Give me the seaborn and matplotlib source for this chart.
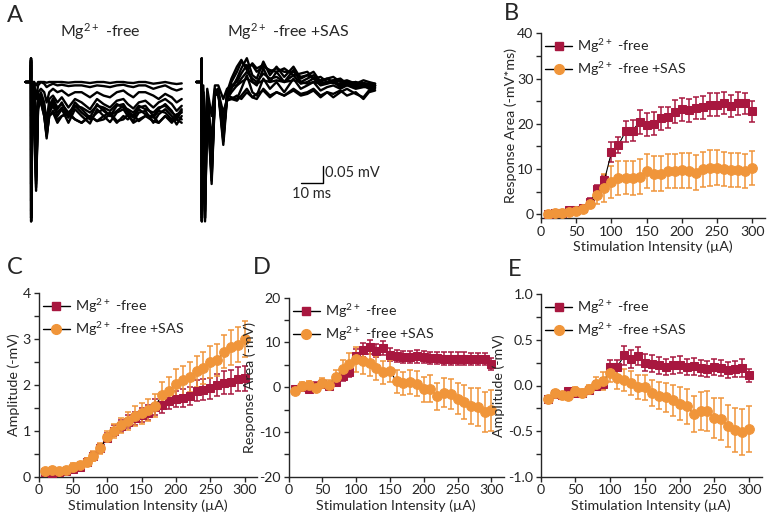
import matplotlib
matplotlib.use('Agg')
import matplotlib.pyplot as plt
from matplotlib.lines import Line2D
from matplotlib.ticker import MultipleLocator, FormatStrFormatter
import seaborn as sns
import pandas as pd

sns.set_style('ticks')
plt.rcParams['font.family'] = ['Lato', 'DejaVu Sans']
plt.rcParams['mathtext.fontset'] = 'custom'
plt.rcParams['mathtext.rm'] = 'Lato'
plt.rcParams['mathtext.default'] = 'regular'
plt.rcParams['axes.unicode_minus'] = False

RED = '#A8173F'
ORANGE = '#F0953A'

# stimulation intensities (uA)
stim = [10, 20, 30, 40, 50, 60, 70, 80, 90, 100, 110, 120, 130, 140, 150,
        160, 170, 180, 190, 200, 210, 220, 230, 240, 250, 260, 270, 280, 290, 300]

# B: response area (-mV*ms)
b_free = [0, 0.2, 0.3, 1.0, 1.0, 1.3, 2.8, 5.5, 7.5, 13.7, 15.3, 18.3, 18.5, 20.4, 19.8,
          20.0, 21.2, 21.4, 22.7, 23.2, 23.0, 23.5, 23.6, 24.2, 24.2, 24.6, 24.0, 24.5, 24.5, 22.8]
b_free_err = [0.2, 0.3, 0.3, 0.5, 0.6, 0.6, 0.8, 1.0, 1.2, 2.2, 1.8, 2.3, 2.4, 2.7, 2.5,
              2.5, 2.5, 2.4, 2.5, 2.5, 2.5, 2.4, 2.5, 2.5, 2.5, 2.5, 2.4, 2.5, 2.4, 2.3]
b_sas = [0, 0.2, 0.2, 0.5, 0.8, 1.2, 2.3, 4.2, 5.8, 7.1, 8.0, 8.1, 8.0, 8.3, 9.6,
         9.0, 9.0, 9.6, 9.5, 9.7, 9.6, 9.2, 9.9, 10.2, 10.3, 10.0, 9.8, 9.8, 9.6, 10.2]
b_sas_err = [0.2, 0.3, 0.3, 0.5, 0.6, 0.7, 1.0, 2.0, 3.0, 3.6, 3.7, 3.7, 3.7, 3.8, 3.8,
             3.8, 3.8, 3.8, 3.8, 3.9, 3.9, 3.9, 3.9, 3.9, 3.9, 3.8, 3.8, 3.8, 3.8, 3.8]

# C: amplitude (-mV)
c_free = [0.1, 0.05, 0.1, 0.12, 0.17, 0.22, 0.33, 0.45, 0.62, 0.85, 1.0, 1.1, 1.2, 1.27, 1.35,
          1.4, 1.52, 1.56, 1.65, 1.7, 1.72, 1.76, 1.88, 1.9, 1.93, 2.0, 2.05, 2.06, 2.13, 2.15]
c_free_err = [0.05, 0.05, 0.05, 0.05, 0.05, 0.06, 0.07, 0.08, 0.1, 0.1, 0.12, 0.13, 0.14, 0.14, 0.15,
              0.16, 0.17, 0.18, 0.18, 0.18, 0.2, 0.2, 0.22, 0.22, 0.23, 0.24, 0.25, 0.26, 0.26, 0.27]
c_sas = [0.12, 0.15, 0.12, 0.15, 0.22, 0.25, 0.33, 0.45, 0.62, 0.87, 1.0, 1.12, 1.22, 1.33, 1.38,
         1.45, 1.55, 1.78, 1.88, 2.03, 2.1, 2.18, 2.3, 2.38, 2.5, 2.55, 2.73, 2.82, 2.88, 3.0]
c_sas_err = [0.05, 0.06, 0.06, 0.06, 0.07, 0.07, 0.08, 0.1, 0.12, 0.12, 0.15, 0.17, 0.2, 0.22, 0.22,
             0.24, 0.25, 0.28, 0.3, 0.32, 0.32, 0.33, 0.34, 0.35, 0.35, 0.35, 0.36, 0.38, 0.38, 0.4]

# D: response area (-mV)
d_free = [-0.5, 0, -0.3, 0.3, 0.8, 0.2, 1.2, 2.5, 3.5, 7.0, 8.3, 9.0, 8.2, 8.8, 7.3,
          7.0, 6.8, 6.8, 6.9, 6.8, 6.5, 6.5, 6.4, 6.4, 6.4, 6.4, 6.3, 6.3, 6.3, 5.2]
d_free_err = [0.8, 0.8, 0.8, 0.8, 0.8, 0.8, 1.0, 1.2, 1.3, 1.5, 1.5, 1.5, 1.5, 1.5, 1.4,
              1.4, 1.4, 1.4, 1.4, 1.4, 1.4, 1.4, 1.4, 1.4, 1.4, 1.4, 1.4, 1.4, 1.4, 1.4]
d_sas = [-0.8, 0.3, 0.5, -0.2, 1.0, 0.6, 2.3, 4.0, 5.2, 6.2, 5.8, 5.4, 4.3, 3.3, 3.6,
         1.3, 0.9, 1.1, 0.8, -0.5, -0.3, -2.0, -1.2, -1.5, -2.6, -3.4, -4.2, -4.4, -5.5, -5.2]
d_sas_err = [0.8, 0.9, 0.9, 0.9, 1.0, 1.0, 1.5, 2.0, 2.5, 2.8, 2.8, 2.8, 2.7, 2.6, 2.5,
             2.5, 2.6, 2.7, 2.8, 2.8, 3.0, 3.0, 3.2, 3.3, 3.5, 3.8, 4.0, 4.2, 4.4, 4.6]

# E: amplitude (-mV)
e_free = [-0.15, -0.09, -0.1, -0.06, -0.08, -0.08, -0.05, 0.0, 0.02, 0.2, 0.2, 0.33, 0.29, 0.32, 0.25,
          0.24, 0.22, 0.2, 0.22, 0.23, 0.2, 0.21, 0.19, 0.18, 0.2, 0.19, 0.17, 0.18, 0.19, 0.11]
e_free_err = [0.04, 0.03, 0.03, 0.03, 0.03, 0.03, 0.04, 0.05, 0.06, 0.08, 0.08, 0.1, 0.1, 0.1, 0.09,
              0.09, 0.09, 0.09, 0.09, 0.09, 0.09, 0.09, 0.09, 0.09, 0.09, 0.09, 0.09, 0.09, 0.1, 0.07]
e_sas = [-0.15, -0.08, -0.1, -0.12, -0.06, -0.08, -0.04, 0.02, 0.05, 0.14, 0.08, 0.06, 0.03, -0.02, -0.02,
         -0.08, -0.11, -0.13, -0.16, -0.2, -0.23, -0.31, -0.28, -0.28, -0.36, -0.37, -0.44, -0.49, -0.51, -0.48]
e_sas_err = [0.04, 0.03, 0.03, 0.04, 0.04, 0.04, 0.05, 0.07, 0.1, 0.1, 0.12, 0.12, 0.13, 0.13, 0.14,
             0.14, 0.15, 0.16, 0.17, 0.18, 0.19, 0.2, 0.21, 0.22, 0.22, 0.23, 0.23, 0.24, 0.25, 0.25]

# A: example traces (time in ms from stimulus, voltage in mV)
t_free = [-2.5, -0.1, 0, 0.05, 0.6, 1.4, 2.3, 3.2, 4.5, 6.0, 7.1, 8.3, 10, 12, 14, 17, 20, 23, 26.8,
          30, 33, 35.9, 39, 42, 44, 46.5, 49, 52, 55.6, 58, 61, 64, 66.2, 68.5]
traces_free = [
    [0, 0, 0.07, -0.41, -0.12, -0.04, -0.32, -0.08, -0.05, -0.09, -0.166, -0.09, -0.07, -0.1, -0.08, -0.12, -0.08,
     -0.1, -0.122, -0.08, -0.1, -0.118, -0.09, -0.08, -0.1, -0.115, -0.09, -0.085, -0.12, -0.095, -0.08, -0.1, -0.125, -0.1],
    [0, 0, 0.07, -0.41, -0.1, -0.035, -0.31, -0.07, -0.06, -0.1, -0.16, -0.1, -0.09, -0.12, -0.1, -0.09, -0.11,
     -0.12, -0.1, -0.115, -0.1, -0.09, -0.115, -0.11, -0.095, -0.12, -0.11, -0.1, -0.115, -0.12, -0.1, -0.115, -0.11, -0.12],
    [0, 0, 0.065, -0.4, -0.11, -0.035, -0.3, -0.07, -0.06, -0.1, -0.155, -0.1, -0.085, -0.11, -0.1, -0.095, -0.11,
     -0.12, -0.1, -0.115, -0.11, -0.095, -0.12, -0.1, -0.11, -0.095, -0.115, -0.1, -0.1, -0.12, -0.1, -0.12, -0.1, -0.11],
    [0, 0, 0.065, -0.4, -0.09, -0.03, -0.29, -0.06, -0.045, -0.085, -0.15, -0.085, -0.06, -0.09, -0.075, -0.105, -0.07,
     -0.09, -0.11, -0.09, -0.08, -0.1, -0.085, -0.07, -0.09, -0.105, -0.08, -0.095, -0.105, -0.085, -0.09, -0.11, -0.095, -0.09],
    [0, 0, 0.06, -0.38, -0.1, -0.03, -0.28, -0.06, -0.04, -0.08, -0.14, -0.07, -0.05, -0.08, -0.06, -0.1, -0.06,
     -0.08, -0.105, -0.065, -0.085, -0.1, -0.07, -0.065, -0.085, -0.1, -0.075, -0.07, -0.1, -0.08, -0.065, -0.085, -0.11, -0.085],
    [0, 0, 0.06, -0.39, -0.08, -0.025, -0.27, -0.06, -0.04, -0.07, -0.13, -0.075, -0.05, -0.075, -0.065, -0.09, -0.07,
     -0.075, -0.09, -0.07, -0.075, -0.085, -0.065, -0.075, -0.08, -0.09, -0.07, -0.08, -0.09, -0.075, -0.07, -0.09, -0.1, -0.08],
    [0, 0, 0.05, -0.35, -0.08, -0.02, -0.25, -0.05, -0.03, -0.06, -0.12, -0.05, -0.04, -0.06, -0.045, -0.075, -0.05,
     -0.06, -0.08, -0.05, -0.065, -0.075, -0.055, -0.05, -0.065, -0.078, -0.06, -0.055, -0.075, -0.06, -0.05, -0.065, -0.085, -0.07],
    [0, 0, 0.04, -0.3, -0.05, -0.01, -0.15, -0.03, -0.02, -0.03, -0.06, -0.03, -0.02, -0.03, -0.025, -0.04, -0.03,
     -0.03, -0.045, -0.03, -0.04, -0.045, -0.03, -0.025, -0.035, -0.045, -0.03, -0.03, -0.04, -0.05, -0.035, -0.045, -0.06, -0.05],
    [0, 0, 0.03, -0.2, -0.02, 0, -0.05, -0.01, 0, -0.005, -0.015, -0.01, -0.005, -0.01, -0.008, -0.012, -0.01,
     -0.01, -0.015, -0.01, -0.012, -0.015, -0.01, -0.008, -0.012, -0.015, -0.01, -0.01, -0.02, -0.015, -0.01, -0.02, -0.025, -0.02],
    [0, 0, 0.02, -0.1, 0, 0, -0.01, 0, 0, 0, -0.002, 0, 0, 0, 0, -0.002, 0,
     0, -0.003, 0, 0, -0.003, 0, 0, -0.002, -0.003, 0, 0, -0.005, -0.003, 0, -0.004, -0.006, -0.004],
]
t_sas = [-2.5, -0.1, 0, 0.05, 0.7, 1.5, 2.5, 4.5, 6, 7.5, 9.8, 11.5, 13.5, 16, 18, 20.5, 23, 25, 28, 31, 34,
         37.5, 41.7, 45, 48, 50.8, 54, 57, 59.8, 63, 66, 70, 73.5, 76, 78.8]
traces_sas = [
    [0, 0, 0.07, -0.41, -0.05, -0.41, -0.06, -0.3, -0.04, -0.03, -0.185, -0.05, -0.02, 0.01, 0.04, 0.07, 0.02, 0.01,
     0.06, 0.02, 0.045, 0.015, 0.045, 0.01, 0.02, 0.03, 0.0, 0.01, 0.015, 0.0, 0.005, -0.005, 0.005, 0.0, -0.005],
    [0, 0, 0.07, -0.41, -0.05, -0.4, -0.05, -0.28, -0.03, -0.02, -0.17, -0.03, 0.01, 0.045, 0.065, 0.035, 0.055, 0.04,
     0.05, 0.03, 0.04, 0.03, 0.03, 0.015, 0.02, 0.01, 0.005, 0.01, 0.0, 0.005, -0.005, 0.0, -0.01, -0.005, -0.01],
    [0, 0, 0.065, -0.4, -0.05, -0.4, -0.055, -0.29, -0.035, -0.025, -0.175, -0.04, 0.0, 0.03, 0.06, 0.045, 0.05, 0.03,
     0.045, 0.035, 0.03, 0.04, 0.02, 0.025, 0.03, 0.01, 0.015, 0.0, 0.005, 0.01, -0.005, 0.0, -0.01, -0.005, -0.01],
    [0, 0, 0.06, -0.39, -0.04, -0.38, -0.05, -0.27, -0.03, -0.02, -0.16, -0.04, -0.01, 0.0, 0.025, 0.05, 0.0, -0.01,
     0.04, 0.0, 0.03, 0.0, 0.035, 0.0, 0.01, 0.02, -0.005, 0.0, 0.005, -0.01, 0.0, -0.01, -0.005, -0.01, -0.01],
    [0, 0, 0.06, -0.38, -0.04, -0.36, -0.04, -0.25, -0.04, -0.03, -0.15, -0.05, -0.03, -0.01, 0.01, 0.03, 0.01, 0.0,
     0.025, 0.01, 0.015, 0.0, 0.02, -0.005, 0.0, 0.01, -0.01, -0.005, 0.0, -0.015, -0.005, -0.015, -0.01, -0.02, -0.015],
    [0, 0, 0.05, -0.37, -0.03, -0.33, -0.04, -0.22, -0.03, -0.02, -0.13, -0.04, -0.045, -0.05, -0.02, 0.02, -0.03, -0.04,
     0.01, -0.02, 0.0, -0.03, 0.01, -0.02, -0.01, 0.0, -0.025, -0.015, -0.01, -0.02, -0.01, -0.02, -0.015, -0.015, -0.015],
    [0, 0, 0.05, -0.35, -0.03, -0.3, -0.03, -0.2, -0.03, -0.04, -0.11, -0.055, -0.05, -0.04, -0.05, -0.03, -0.045, -0.035,
     -0.025, -0.045, -0.03, -0.04, -0.025, -0.04, -0.035, -0.025, -0.045, -0.03, -0.035, -0.025, -0.04, -0.03, -0.05, -0.03, -0.025],
    [0, 0, 0.04, -0.33, -0.03, -0.28, -0.03, -0.18, -0.02, -0.03, -0.09, -0.05, -0.05, -0.055, -0.04, -0.02, -0.045, -0.05,
     -0.02, -0.04, -0.03, -0.04, -0.02, -0.035, -0.03, -0.02, -0.04, -0.03, -0.045, -0.03, -0.02, -0.035, -0.045, -0.025, -0.02],
    [0, 0, 0.03, -0.25, -0.01, -0.2, -0.02, -0.1, -0.01, -0.01, -0.05, -0.02, -0.01, -0.01, 0.0, 0.01, 0.0, -0.005,
     0.005, 0.0, 0.005, 0.0, 0.005, 0.0, -0.005, 0.0, -0.005, 0.0, -0.003, -0.005, 0.0, -0.005, -0.003, -0.005, -0.005],
]

LAB_FREE = r'$\mathregular{Mg^{2+}}$ -free'
LAB_SAS = r'$\mathregular{Mg^{2+}}$ -free +SAS'

fig = plt.figure(figsize=(7.71, 5.2), dpi=100)


def fx(px):
    return px / 771


def fy(py):
    return 1 - py / 520


# ---- panel A: traces
axA = fig.add_axes([0, fy(235), fx(420), fy(40) - fy(235)])
rows = []
for i, tr in enumerate(traces_free):
    for t, v in zip(t_free, tr):
        rows.append({'t': t + 14.1, 'v': v, 'trace': 'f%d' % i})
for i, tr in enumerate(traces_sas):
    for t, v in zip(t_sas, tr):
        rows.append({'t': t + 91.7, 'v': v, 'trace': 's%d' % i})
df_tr = pd.DataFrame(rows)
sns.lineplot(data=df_tr, x='t', y='v', units='trace', estimator=None, sort=False,
             color='black', lw=1.7, ax=axA)
axA.set_xlim(0, 420 / 2.2)
axA.set_ylim(-(235 - 82) / 340, (82 - 40) / 340)
axA.axis('off')
# scale bar: 10 ms, 0.05 mV
axA.plot([136.8, 146.8, 146.8], [-0.297, -0.297, -0.247], color='black', lw=1.0)
axA.text(147.8, -0.268, '0.05 mV', fontsize=10.5, va='center', ha='left')
axA.text(141.8, -0.33, '10 ms', fontsize=10.5, va='center', ha='center')
fig.text(fx(100), fy(32), LAB_FREE, fontsize=11.5, ha='center', va='center')
fig.text(fx(288), fy(32), LAB_SAS, fontsize=11.5, ha='center', va='center')


def panel(rect, yfree, efree, ysas, esas, ylim, major, minor, ylabel, labx, yfmt=None):
    ax = fig.add_axes(rect)
    for y, e, col, mk, ms in [(yfree, efree, RED, 's', 6), (ysas, esas, ORANGE, 'o', 7)]:
        ax.errorbar(stim, y, yerr=e, fmt='none', ecolor=col, elinewidth=1.1,
                    capsize=2.2, capthick=1.1, zorder=2)
        sns.lineplot(x=stim, y=y, ax=ax, color='black', lw=0.8, marker=mk, markersize=ms,
                     markerfacecolor=col, markeredgecolor=col, zorder=3)
    ax.set_xlim(0, 318)
    ax.set_ylim(*ylim)
    ax.xaxis.set_major_locator(MultipleLocator(50))
    ax.yaxis.set_major_locator(MultipleLocator(major))
    ax.yaxis.set_minor_locator(MultipleLocator(minor))
    if yfmt:
        ax.yaxis.set_major_formatter(yfmt)
    sns.despine(ax=ax)
    for s in ['left', 'bottom']:
        ax.spines[s].set_linewidth(1.0)
    ax.tick_params(which='major', direction='out', length=3.5, width=1.0, labelsize=10.2, pad=2)
    ax.tick_params(which='minor', direction='out', length=3.5, width=1.0)
    ax.set_xlabel('Stimulation Intensity (µA)', fontsize=10.3, labelpad=2)
    ax.set_ylabel(ylabel, fontsize=10.3)
    ax.yaxis.set_label_coords(labx, 0.5)
    handles = [Line2D([], [], color='black', lw=1, marker='s', markersize=6,
                      markerfacecolor=RED, markeredgecolor=RED),
               Line2D([], [], color='black', lw=1, marker='o', markersize=7,
                      markerfacecolor=ORANGE, markeredgecolor=ORANGE)]
    ax.legend(handles, [LAB_FREE, LAB_SAS], loc='upper left', frameon=False, fontsize=10.3,
              handlelength=1.9, handletextpad=0.35, labelspacing=0.35,
              borderaxespad=0.1, borderpad=0.2)
    return ax


panel([fx(541), fy(218.3), fx(765 - 541), fy(33.3) - fy(218.3)],
      b_free, b_free_err, b_sas, b_sas_err, (-0.9, 40), 10, 5, 'Response Area (-mV*ms)', -0.107)
panel([fx(38.5), fy(476.7), fx(257 - 38.5), fy(293.3) - fy(476.7)],
      c_free, c_free_err, c_sas, c_sas_err, (0, 4), 1, 0.5, 'Amplitude (-mV)', -0.085)
panel([fx(288.5), fy(476.7), fx(503.5 - 288.5), fy(297.7) - fy(476.7)],
      d_free, d_free_err, d_sas, d_sas_err, (-20, 20), 10, 5, 'Response Area (-mV)', -0.15)
panel([fx(540.7), fy(476.7), fx(761.7 - 540.7), fy(294.3) - fy(476.7)],
      e_free, e_free_err, e_sas, e_sas_err, (-1.0, 1.0), 0.5, 0.25, 'Amplitude (-mV)', -0.16,
      yfmt=FormatStrFormatter('%.1f'))

for letter, px, py in [('A', 15, 15), ('B', 511, 14), ('C', 15, 267), ('D', 262, 267), ('E', 515, 270)]:
    fig.text(fx(px), fy(py), letter, fontsize=17, ha='center', va='center')

fig.savefig('out.png', dpi=100)
